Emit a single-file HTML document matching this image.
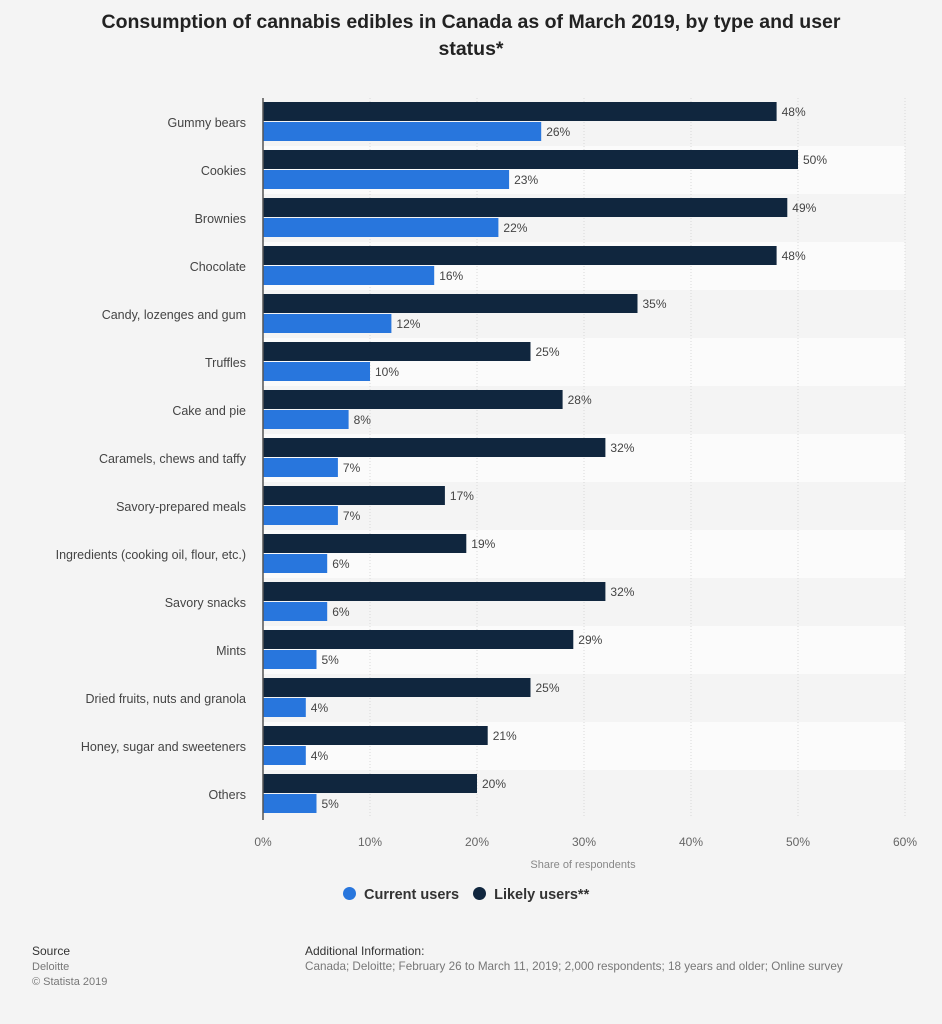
<!DOCTYPE html>
<html><head><meta charset="utf-8"><style>
body{margin:0;background:#f4f4f4;font-family:"Liberation Sans",sans-serif;}
#wrap{position:relative;width:942px;height:1024px;overflow:hidden;}
.t{position:absolute;}
</style></head><body>
<div id="wrap">
<div class="t" style="left:21px;top:9px;width:900px;text-align:center;font-weight:bold;font-size:19.5px;line-height:27px;color:#222;">Consumption of cannabis edibles in Canada as of March 2019, by type and user<br>status*</div>
<svg id="chart" width="942" height="880" style="position:absolute;left:0;top:0"></svg>
<div class="t" style="left:343px;top:887px;font-size:14.5px;font-weight:bold;color:#333;">
<span style="display:inline-block;margin-right:14px"><span style="display:inline-block;width:13px;height:13px;border-radius:50%;background:#2876dd;vertical-align:-1px;margin-right:8px"></span>Current users</span><span><span style="display:inline-block;width:13px;height:13px;border-radius:50%;background:#10263e;vertical-align:-1px;margin-right:8px"></span>Likely users**</span></div>
<div class="t" style="left:32px;top:944px;font-size:11px;line-height:15px;color:#777;"><span style="color:#333;font-size:12px">Source</span><br>Deloitte<br>© Statista 2019</div>
<div class="t" style="left:305px;top:944px;font-size:11.7px;line-height:15px;color:#777;"><span style="color:#333;font-size:12px">Additional Information:</span><br>Canada; Deloitte; February 26 to March 11, 2019; 2,000 respondents; 18 years and older; Online survey</div>
</div>
<script>
const categories=["Gummy bears","Cookies","Brownies","Chocolate","Candy, lozenges and gum","Truffles","Cake and pie","Caramels, chews and taffy","Savory-prepared meals","Ingredients (cooking oil, flour, etc.)","Savory snacks","Mints","Dried fruits, nuts and granola","Honey, sugar and sweeteners","Others"];
const likelyUsers=[48,50,49,48,35,25,28,32,17,19,32,29,25,21,20];
const currentUsers=[26,23,22,16,12,10,8,7,7,6,6,5,4,4,5];
const tickValues=[0,10,20,30,40,50,60];
const ns="http://www.w3.org/2000/svg";
const svg=document.getElementById('chart');
const x0=263,x1=905,top0=98,rowH=48,xMax=60;
const xs=v=>x0+(x1-x0)*v/xMax;
function mk(tag,at,txt){const e=document.createElementNS(ns,tag);for(const k in at)e.setAttribute(k,at[k]);if(txt!=null)e.textContent=txt;svg.appendChild(e);return e;}
categories.forEach((c,i)=>{if(i%2==1){const b=mk('rect',{x:x0,y:top0+i*rowH,width:x1-x0,height:rowH,fill:'#fbfbfb'});

}});
tickValues.forEach(v=>{const l=mk('line',{x1:xs(v),x2:xs(v),y1:top0,y2:top0+categories.length*rowH,stroke:'#d8d8d8','stroke-dasharray':'1,2'});


const t=mk('text',{x:xs(v),y:846,'text-anchor':'middle','font-size':12,fill:'#666'},v+'%');

});
categories.forEach((c,i)=>{const y=top0+i*rowH;
const lb=mk('text',{x:246,y:y+29,'text-anchor':'end','font-size':12.5,fill:'#444'},c);


const b1=mk('rect',{x:x0,y:y+4,width:xs(likelyUsers[i])-x0,height:19,fill:'#10263e'});


const t1=mk('text',{x:xs(likelyUsers[i])+5,y:y+18,'font-size':12,fill:'#444'},likelyUsers[i]+'%');


const b2=mk('rect',{x:x0,y:y+24,width:xs(currentUsers[i])-x0,height:19,fill:'#2876dd'});


const t2=mk('text',{x:xs(currentUsers[i])+5,y:y+38,'font-size':12,fill:'#444'},currentUsers[i]+'%');

});
const ax=mk('line',{x1:x0,x2:x0,y1:top0,y2:top0+categories.length*rowH+2,stroke:'#555','stroke-width':1.5});


const at=mk('text',{x:583,y:868,'text-anchor':'middle','font-size':11,fill:'#888'},'Share of respondents');


</script>
</body></html>
